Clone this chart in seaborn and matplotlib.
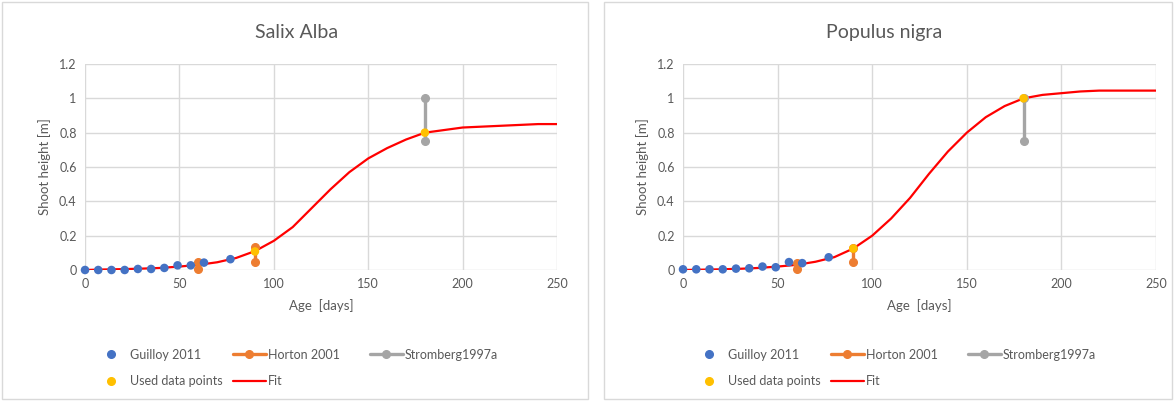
import numpy as np
import pandas as pd
import matplotlib
matplotlib.use("Agg")
import matplotlib.pyplot as plt
from matplotlib.lines import Line2D
from matplotlib.patches import Rectangle
import seaborn as sns

# ---- data ----
guilloy_days = [0, 7, 14, 21, 28, 35, 42, 49, 56, 63, 77]
salix_guilloy = [0.0, 0.0, 0.0, 0.0, 0.006, 0.006, 0.012, 0.027, 0.027, 0.043, 0.063]
populus_guilloy = [0.004, 0.004, 0.004, 0.004, 0.008, 0.01, 0.02, 0.016, 0.046, 0.04, 0.074]

horton_days = [60, 90]
salix_horton = [(0.045, 0.008), (0.133, 0.049)]
populus_horton = [(0.042, 0.004), (0.13, 0.046)]

stromberg_day = 180
salix_stromberg = (1.0, 0.75)
populus_stromberg = (1.0, 0.75)

used_days_salix = [90, 180]
used_salix = [0.108, 0.80]
used_days_populus = [90, 180]
used_populus = [0.125, 1.0]

fit_days = [0, 10, 20, 30, 40, 50, 60, 70, 80, 90, 100, 110, 120, 130, 140,
            150, 160, 170, 180, 190, 200, 210, 220, 230, 240, 250]
salix_fit = [0.0, 0.003, 0.005, 0.008, 0.012, 0.02, 0.03, 0.045, 0.07, 0.11,
             0.17, 0.25, 0.36, 0.47, 0.57, 0.65, 0.71, 0.76, 0.80, 0.815,
             0.83, 0.835, 0.84, 0.845, 0.85, 0.85]
populus_fit = [0.0, 0.002, 0.004, 0.007, 0.012, 0.02, 0.03, 0.048, 0.075, 0.125,
               0.2, 0.3, 0.42, 0.56, 0.69, 0.8, 0.89, 0.955, 1.0, 1.02,
               1.03, 1.04, 1.045, 1.045, 1.045, 1.045]

BLUE = "#4472C4"
ORANGE = "#ED7D31"
GRAY = "#A5A5A5"
YELLOW = "#FFC000"
RED = "#FF0000"
TEXT = "#595959"

sns.set_style("whitegrid", {"grid.color": "#D9D9D9", "axes.edgecolor": "#D9D9D9"})
plt.rcParams["font.family"] = ["Lato", "DejaVu Sans"]


def draw_panel(ax, title, title_x, leg_x, guilloy, horton, stromberg,
               used_days, used, fit):
    sns.lineplot(x=fit_days, y=fit, ax=ax, color=RED, lw=1.6, zorder=2)
    for d, (top, bot) in zip(horton_days, horton):
        ax.plot([d, d], [top, bot], color=ORANGE, lw=2.4, marker="o", ms=5.5,
                zorder=3, clip_on=False)
    ax.plot([stromberg_day, stromberg_day], list(stromberg), color=GRAY, lw=2.4,
            marker="o", ms=5.5, zorder=3)
    sns.scatterplot(x=guilloy_days, y=guilloy, ax=ax, color=BLUE, s=38,
                    edgecolor="none", zorder=4, clip_on=False)
    sns.scatterplot(x=used_days, y=used, ax=ax, color=YELLOW, s=38,
                    edgecolor="none", zorder=5, clip_on=False)

    ax.set_xlim(0, 250)
    ax.set_ylim(0, 1.2)
    ax.set_xticks([0, 50, 100, 150, 200, 250])
    ax.set_yticks([0, 0.2, 0.4, 0.6, 0.8, 1.0, 1.2])
    ax.set_yticklabels(["0", "0.2", "0.4", "0.6", "0.8", "1", "1.2"])
    for s in ax.spines.values():
        s.set_visible(False)
    ax.grid(True, color="#D9D9D9", lw=1)
    ax.tick_params(colors=TEXT, labelsize=9, length=0, pad=6)
    fig.text(title_x, 0.918, title, fontsize=14, color=TEXT, ha="center",
             va="center")
    ax.set_xlabel("Age  [days]", fontsize=9.5, color=TEXT, labelpad=6)
    ax.set_ylabel("Shoot height [m]", fontsize=9.5, color=TEXT, labelpad=6)

    h_g = Line2D([], [], ls="none", marker="o", color=BLUE, ms=5.5)
    h_u = Line2D([], [], ls="none", marker="o", color=YELLOW, ms=5.5)
    h_h = Line2D([], [], color=ORANGE, lw=2.4, marker="o", ms=5.5)
    h_s = Line2D([], [], color=GRAY, lw=2.4, marker="o", ms=5.5)
    h_f = Line2D([], [], color=RED, lw=1.6)
    # Excel-style legend: equal-width columns, filled row by row
    columns = [([h_g, h_u], ["Guilloy 2011", "Used data points"]),
               ([h_h, h_f], ["Horton 2001", "Fit"]),
               ([h_s], ["Stromberg1997a"])]
    for x, (hs, ls) in zip(leg_x, columns):
        leg = fig.legend(hs, ls, loc="upper left", bbox_to_anchor=(x, 0.13),
                         bbox_transform=fig.transFigure, frameon=False,
                         fontsize=9, handlelength=2.6, handletextpad=0.2,
                         labelspacing=1.15, borderpad=0, borderaxespad=0)
        for t in leg.get_texts():
            t.set_color(TEXT)


fig = plt.figure(figsize=(11.76, 4.01), dpi=100)
ax1 = fig.add_axes([0.0723, 0.3267, 0.4014, 0.5137])
ax2 = fig.add_axes([0.5808, 0.3267, 0.4022, 0.5137])

draw_panel(ax1, "Salix Alba", 0.252, [95 / 1176, 233 / 1176, 370 / 1176],
           salix_guilloy, salix_horton, salix_stromberg,
           used_days_salix, used_salix, salix_fit)
draw_panel(ax2, "Populus nigra", 0.752, [693 / 1176, 831 / 1176, 968 / 1176],
           populus_guilloy, populus_horton, populus_stromberg,
           used_days_populus, used_populus, populus_fit)

fig.patches.append(Rectangle((0.002, 0.006), 0.498, 0.99, transform=fig.transFigure,
                             fill=False, edgecolor="#D9D9D9", lw=1))
fig.patches.append(Rectangle((0.514, 0.006), 0.483, 0.99, transform=fig.transFigure,
                             fill=False, edgecolor="#D9D9D9", lw=1))

fig.savefig("out.png", dpi=100)
